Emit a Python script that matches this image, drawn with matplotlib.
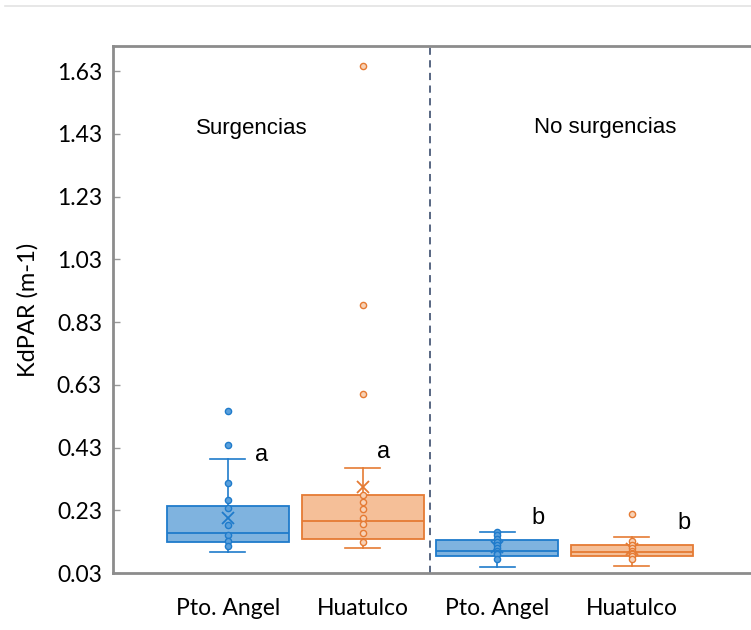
import matplotlib
matplotlib.use("Agg")
import matplotlib.pyplot as plt
from matplotlib.lines import Line2D

# ---------------- data ----------------
groups = ["Pto. Angel", "Huatulco", "Pto. Angel", "Huatulco"]
q1 = [0.129, 0.139, 0.084, 0.085]
med = [0.158, 0.197, 0.100, 0.096]
q3 = [0.244, 0.280, 0.135, 0.119]
whislo = [0.096, 0.111, 0.049, 0.051]
whishi = [0.394, 0.365, 0.162, 0.145]
means = [0.206, 0.303, 0.112, 0.108]
fliers = [[0.546, 0.438], [0.601, 0.885, 1.647], [], [0.219]]
points = [
    [0.316, 0.262, 0.237, 0.184, 0.152, 0.132, 0.116],
    [0.280, 0.255, 0.233, 0.204, 0.186, 0.157, 0.130],
    [0.160, 0.150, 0.140, 0.130, 0.120, 0.110, 0.100, 0.095, 0.090, 0.075],
    [0.132, 0.120, 0.110, 0.100, 0.095, 0.090, 0.085, 0.075],
]
letters = ["a", "a", "b", "b"]
letter_y = [0.406, 0.416, 0.205, 0.189]
yticks = [0.03, 0.23, 0.43, 0.63, 0.83, 1.03, 1.23, 1.43, 1.63]
panel_titles = ["Surgencias", "No surgencias"]

# ---------------- style ----------------
edge_cols = ["#1f7bcb", "#e57b34", "#1f7bcb", "#e57b34"]
fill_cols = ["#7fb3df", "#f5bf98", "#7fb3df", "#f5bf98"]
pt_face = ["#5aa0dc", "#f8d2b6", "#5aa0dc", "#f8d2b6"]

fig = plt.figure(figsize=(7.51, 6.30), dpi=100)
ax = fig.add_axes([113 / 751, 1 - 573 / 630, 1 - 113 / 751 + 0.005, (573 - 46) / 630])

positions = [1, 2, 3, 4]
stats = []
for i in range(4):
    stats.append(dict(q1=q1[i], med=med[i], q3=q3[i], whislo=whislo[i],
                      whishi=whishi[i], mean=means[i], fliers=[], label=groups[i]))

for i in range(4):
    ax.bxp([stats[i]], positions=[positions[i]], widths=0.905, patch_artist=True,
           showmeans=True, showfliers=False, manage_ticks=False,
           boxprops=dict(facecolor=fill_cols[i], edgecolor=edge_cols[i], linewidth=1.3),
           medianprops=dict(color=edge_cols[i], linewidth=1.3),
           whiskerprops=dict(color=edge_cols[i], linewidth=1.2),
           capprops=dict(color=edge_cols[i], linewidth=1.2),
           capwidths=0.26,
           meanprops=dict(marker="x", markeredgecolor=edge_cols[i],
                          markersize=8, markeredgewidth=1.3, linestyle="none"))
    vals = points[i] + fliers[i]
    ax.scatter([positions[i]] * len(vals), vals, s=20, facecolor=pt_face[i],
               edgecolor=edge_cols[i], linewidth=1.0, zorder=5)

ax.axvline(2.5, color="#4a5a78", linestyle=(0, (4, 3)), linewidth=1.3, zorder=1)

ax.set_xlim(1 - 115 / 134.7, 1 + (755 - 228) / 134.7)
ax.set_ylim(0.03, 0.03 + (573 - 46) / 313.6)
ax.set_yticks(yticks)
ax.set_yticklabels([f"{v:.2f}" for v in yticks], fontfamily="Lato", fontsize=16.5)
ax.set_xticks(positions)
ax.set_xticklabels(groups, fontfamily="Lato", fontsize=16.5)
ax.tick_params(axis="y", direction="in", length=5, color="#999999", width=1, pad=8)
ax.tick_params(axis="x", length=0, pad=18)
ax.set_ylabel("KdPAR (m-1)", fontfamily="Lato", fontsize=17, labelpad=13)

for s in ["left", "bottom", "top"]:
    ax.spines[s].set_color("#8c8c8c")
    ax.spines[s].set_linewidth(2)
ax.spines["right"].set_visible(False)

ax.text(1.178, 1.449, panel_titles[0], fontfamily="Liberation Sans", fontsize=16,
        ha="center", va="center")
ax.text(3.80, 1.452, panel_titles[1], fontfamily="Liberation Sans", fontsize=16,
        ha="center", va="center")

letter_x = [1.25, 2.158, 3.30, 4.385]
for i in range(4):
    ax.text(letter_x[i], letter_y[i], letters[i], fontfamily="Liberation Sans",
            fontsize=17, ha="center", va="center")

fig.add_artist(Line2D([5 / 751, 1], [1 - 6 / 630, 1 - 6 / 630],
                      color="#e3e3e3", linewidth=1.2))

fig.savefig("out.png", dpi=100)
